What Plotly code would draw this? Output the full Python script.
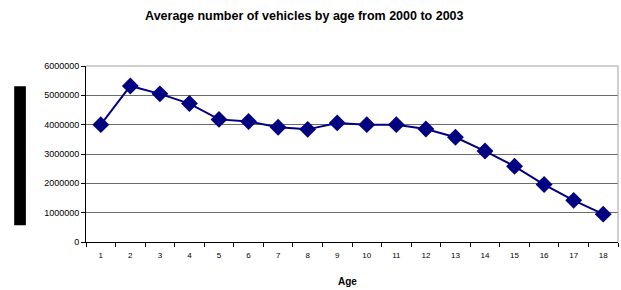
import plotly.graph_objects as go

ages = [str(i) for i in range(1, 19)]
vehicles = [4000000, 5320000, 5050000, 4720000, 4180000, 4110000, 3910000, 3840000, 4060000,
            4000000, 4000000, 3850000, 3570000, 3100000, 2580000, 1960000, 1420000, 950000]
y_ticks = [0, 1000000, 2000000, 3000000, 4000000, 5000000, 6000000]

FONT = "Liberation Sans, Arial, sans-serif"

fig = go.Figure()
fig.add_trace(go.Scatter(
    x=ages, y=vehicles, mode="lines+markers",
    line=dict(color="#000080", width=2),
    marker=dict(symbol="diamond", size=13, color="#000080"),
    showlegend=False,
))

fig.update_layout(
    width=621, height=290,
    margin=dict(l=86, r=3, t=66, b=48, autoexpand=False),
    paper_bgcolor="white", plot_bgcolor="white",
    font=dict(family=FONT, color="black"),
    title=dict(text="<b>Average number of vehicles by age from 2000 to 2003</b>",
               x=0.49, xanchor="center", y=0.945, yanchor="middle",
               font=dict(size=12.5, family=FONT, color="black")),
    xaxis=dict(type="category", tickson="boundaries", ticks="outside", ticklen=4,
               range=[-0.5, 17.5], automargin=False, ticklabelstandoff=5,
               tickcolor="black", showline=True, linecolor="black", linewidth=1,
               showgrid=False, tickfont=dict(size=8), mirror=False),
    yaxis=dict(range=[0, 6000000], tickvals=y_ticks, ticktext=[str(v) for v in y_ticks],
               automargin=False,
               ticks="outside", ticklen=4, tickcolor="black", showline=True,
               linecolor="black", linewidth=1, showgrid=True, gridcolor="#6b6b6b",
               gridwidth=1, tickfont=dict(size=9), zeroline=False),
    annotations=[
        dict(text="<b>Age</b>", xref="paper", yref="paper", x=0.492, y=-0.225,
             xanchor="center", yanchor="middle", showarrow=False,
             font=dict(size=10, family=FONT, color="black")),
    ],
    shapes=[
        dict(type="line", xref="paper", yref="paper", x0=0, x1=1, y0=1, y1=1,
             line=dict(color="#a0a0a0", width=1)),
        dict(type="line", xref="paper", yref="paper", x0=1, x1=1, y0=0, y1=1,
             line=dict(color="#a0a0a0", width=1)),
        dict(type="rect", xref="paper", yref="paper", x0=-0.135, x1=-0.113,
             y0=0.095, y1=0.885, fillcolor="black", line=dict(width=0)),
    ],
)

fig.write_html("out.html", config={"displayModeBar": False},
               post_script="document.body.style.margin='0';document.body.style.padding='0';document.body.style.overflow='hidden';")
